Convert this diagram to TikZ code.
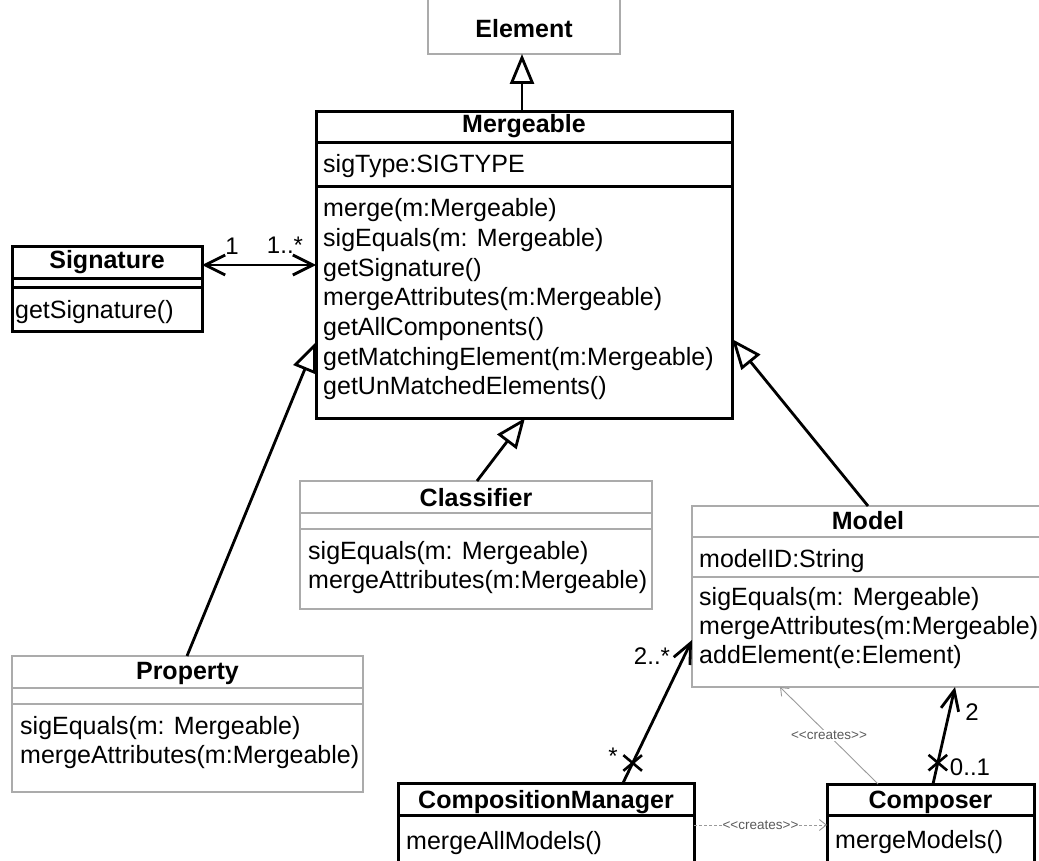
\documentclass[tikz,border=0pt]{standalone}
\usepackage{fontspec}
\setmainfont{Liberation Sans}
\newfontfamily\plainlbl{Liberation Sans}
\usetikzlibrary{arrows.meta,shapes.misc}
\definecolor{boxgray}{HTML}{ABABAB}
\definecolor{lblgray}{HTML}{5A5A5A}
\begin{document}
\begin{tikzpicture}[x=1pt,y=-1pt,
  bbox/.style={draw=black, line width=3pt, fill=white, rectangle, inner sep=0pt, outer sep=0pt, anchor=north west},
  gbox/.style={draw=boxgray, line width=1.4pt, fill=white, rectangle, inner sep=0pt, outer sep=0pt, anchor=north west},
  bsep/.style={draw=black, line width=3pt},
  gsep/.style={draw=boxgray, line width=1.4pt},
  nm/.style={font=\bfseries\fontsize{25}{29}\selectfont, inner sep=0pt, anchor=base},
  tx/.style={font=\fontsize{25}{29}\selectfont, inner sep=0pt, anchor=base west},
  mult/.style={font=\fontsize{24}{28}\selectfont, inner sep=0pt},
  lbl/.style={font=\plainlbl\fontsize{13.5}{15}\selectfont, text=lblgray, inner sep=1pt},
  gen/.style={draw=black, line width=2.8pt, -{Triangle[length=30pt,width=24pt,fill=white]}},
  assoc/.style={draw=black, line width=2.8pt},
  barb/.style={-{Straight Barb[length=20pt,width=18pt]}},
  xmark/.style={cross out, draw=black, line width=2.6pt, minimum width=16pt, minimum height=13pt, inner sep=0pt},
  crt/.style={draw=boxgray!90!black, line width=0.9pt, -{Straight Barb[length=7pt,width=11pt]}},
  crtd/.style={draw=boxgray!90!black, line width=0.9pt, dash pattern=on 3pt off 2pt, -{Straight Barb[length=7pt,width=11pt]}}
]
\useasboundingbox (0,0) rectangle (1039,861);
\clip (0,0) rectangle (1039,861);

% ---------- boxes ----------
\node[gbox, minimum width=192pt, minimum height=70pt] (elem) at (428,-16) {};
\node[bbox, minimum width=416pt, minimum height=306pt] (merg) at (316,112) {};
\node[bbox, minimum width=190pt, minimum height=84pt] (sig) at (12,247) {};
\node[gbox, minimum width=352pt, minimum height=128pt] (cls) at (300,481) {};
\node[gbox, minimum width=351pt, minimum height=136pt] (prop) at (12,656) {};
\node[gbox, minimum width=352pt, minimum height=181pt] (model) at (692,506) {};
\node[bbox, minimum width=296pt, minimum height=100pt] (cm) at (398,783) {};
\node[bbox, minimum width=207pt, minimum height=100pt] (comp) at (827,784) {};

% ---------- compartments ----------
\draw[bsep] (merg.west |- 0,143) -- (merg.east |- 0,143);
\draw[bsep] (merg.west |- 0,187) -- (merg.east |- 0,187);
\draw[bsep] (sig.west |- 0,278) -- (sig.east |- 0,278);
\draw[bsep] (sig.west |- 0,287) -- (sig.east |- 0,287);
\draw[gsep] (cls.west |- 0,513) -- (cls.east |- 0,513);
\draw[gsep] (cls.west |- 0,529) -- (cls.east |- 0,529);
\draw[gsep] (prop.west |- 0,688) -- (prop.east |- 0,688);
\draw[gsep] (prop.west |- 0,704) -- (prop.east |- 0,704);
\draw[gsep] (model.west |- 0,537) -- (model.east |- 0,537);
\draw[gsep] (model.west |- 0,577) -- (model.east |- 0,577);
\draw[bsep] (cm.west |- 0,815) -- (cm.east |- 0,815);
\draw[bsep] (comp.west |- 0,815) -- (comp.east |- 0,815);

% ---------- texts ----------
\node[nm] (elemN) at (524,38) {Element};

\node[nm] (mergN) at (524,133) {Mergeable};
\node[tx] (mA) at (323,173) {sigType:SIGTYPE};
\node[tx] (m1) at (323,217) {merge(m:Mergeable)};
\node[tx] (m2) at (323,246.6) {sigEquals(m: Mergeable)};
\node[tx] (m3) at (323,276.2) {getSignature()};
\node[tx] (m4) at (323,305.8) {mergeAttributes(m:Mergeable)};
\node[tx] (m5) at (323,335.4) {getAllComponents()};
\node[tx] (m6) at (323,365) {getMatchingElement(m:Mergeable)};
\node[tx] (m7) at (323,394.6) {getUnMatchedElements()};

\node[nm] (sigN) at (107,269) {Signature};
\node[tx] (s1) at (15,318) {getSignature()};

\node[nm] (clsN) at (476,506) {Classifier};
\node[tx] (c1) at (308,559) {sigEquals(m: Mergeable)};
\node[tx] (c2) at (308,588.5) {mergeAttributes(m:Mergeable)};

\node[nm] (propN) at (187.5,679) {Property};
\node[tx] (p1) at (20,734) {sigEquals(m: Mergeable)};
\node[tx] (p2) at (20,763) {mergeAttributes(m:Mergeable)};

\node[nm] (modelN) at (868,529) {Model};
\node[tx] (md0) at (699,567) {modelID:String};
\node[tx] (md1) at (699,605) {sigEquals(m: Mergeable)};
\node[tx] (md2) at (699,634) {mergeAttributes(m:Mergeable)};
\node[tx] (md3) at (699,663) {addElement(e:Element)};

\node[nm] (cmN) at (546,808) {CompositionManager};
\node[tx] (cm1) at (406,849) {mergeAllModels()};

\node[nm] (compN) at (930.5,808) {Composer};
\node[tx] (cp1) at (835,848) {mergeModels()};

% ---------- generalizations ----------
\draw[gen] (merg.north -| 522,0) -- (elem.south -| 522,0);
\draw[gen] (prop.north -| 187,0) -- (merg.west |- 0,342);
\draw[gen] (cls.north -| 477,0) -- (merg.south -| 525,0);
\draw[gen] (model.north -| 868,0) -- (merg.east |- 0,339);

% ---------- associations ----------
\draw[assoc, {Straight Barb[length=20pt,width=20pt]}-{Straight Barb[length=20pt,width=20pt]}]
  (sig.east |- 0,265) -- (merg.west |- 0,265);
\node[mult] (ml1) at (232,246) {1};
\node[mult] (ml2) at (285,245) {1..*};

\draw[assoc, barb] (cm.north -| 623,0) -- (model.west |- 0,640)
  node[pos=0.14, xmark] (x1) {};
\node[mult] (ml3) at (652,656) {2..*};
\node[mult] (ml4) at (613,756) {*};

\draw[assoc, barb] (comp.north -| 933,0) -- (model.south -| 955,0)
  node[pos=0.22, xmark] (x2) {};
\node[mult] (ml5) at (972,712) {2};
\node[mult] (ml6) at (970,767) {0..1};

% ---------- creates dependencies ----------
\draw[crt] (comp.north -| 878,0) -- (model.south -| 780,0)
  node[midway, fill=white, lbl] (cr1) {<<creates>>};
\draw[crtd] (cm.east |- 0,825) -- (comp.west |- 0,825)
  node[midway, fill=white, lbl] (cr2) {<<creates>>};
\end{tikzpicture}
\end{document}
